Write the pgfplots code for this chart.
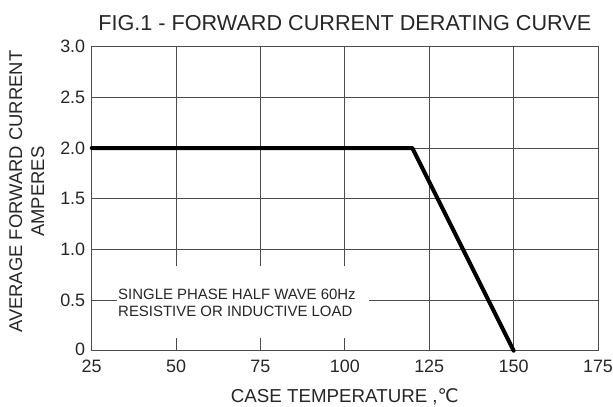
\documentclass[border=0pt]{standalone}
\usepackage{fontspec}
\setmainfont{Liberation Sans}
\newfontfamily\dejavu{DejaVu Sans}
\usepackage{pgfplots}
\pgfplotsset{compat=1.18}
\begin{document}
\begin{tikzpicture}
\begin{axis}[
  scale only axis,
  width=506.3bp, height=304bp,
  xmin=25, xmax=175, ymin=0, ymax=3,
  xtick={25,50,75,100,125,150,175},
  ytick={0,0.5,1,1.5,2,2.5,3},
  yticklabels={\raisebox{2bp}{0},0.5,1.0,1.5,2.0,2.5,3.0},
  /pgf/number format/assume math mode=true,
  tick label style={font=\fontsize{18}{18}\selectfont, text=black!85},
  xticklabel style={yshift=-6bp},
  yticklabel style={xshift=-3bp},
  major tick length=0pt,
  grid=major,
  grid style={draw=black!70, line width=0.8bp},
  axis line style={draw=black!70, line width=1bp},
  clip=false,
]
\addplot[black, line width=4bp, line cap=round, line join=round] coordinates {(25,2) (120,2) (150,0)};
\fill[white] (axis cs:32.5,0.13) rectangle (axis cs:107.1,0.84);
\node[anchor=west, align=left, font=\fontsize{15}{17}\selectfont, text=black!85, inner sep=0pt] at (axis cs:32.8,0.475) {SINGLE PHASE HALF WAVE 60Hz\\RESISTIVE OR INDUCTIVE LOAD};
\node[anchor=base, font=\fontsize{21.7}{21.7}\selectfont, text=black!85] at ([yshift=16bp]rel axis cs:0.5,1) {FIG.1 - FORWARD CURRENT DERATING CURVE};
\node[anchor=base, font=\fontsize{18.8}{18.8}\selectfont, text=black!85] at ([yshift=-52bp]rel axis cs:0.5,0) {CASE TEMPERATURE ,{\dejavu ℃}};
\node[rotate=90, align=center, font=\fontsize{18.5}{22}\selectfont, text=black!85] at ([xshift=-65bp]rel axis cs:0,0.523) {AVERAGE FORWARD CURRENT\\AMPERES};
\end{axis}
\pgfresetboundingbox
\path (current axis.south west) ++(-91.7bp,-56.3bp) rectangle ++(613bp,407bp);
\end{tikzpicture}
\end{document}
